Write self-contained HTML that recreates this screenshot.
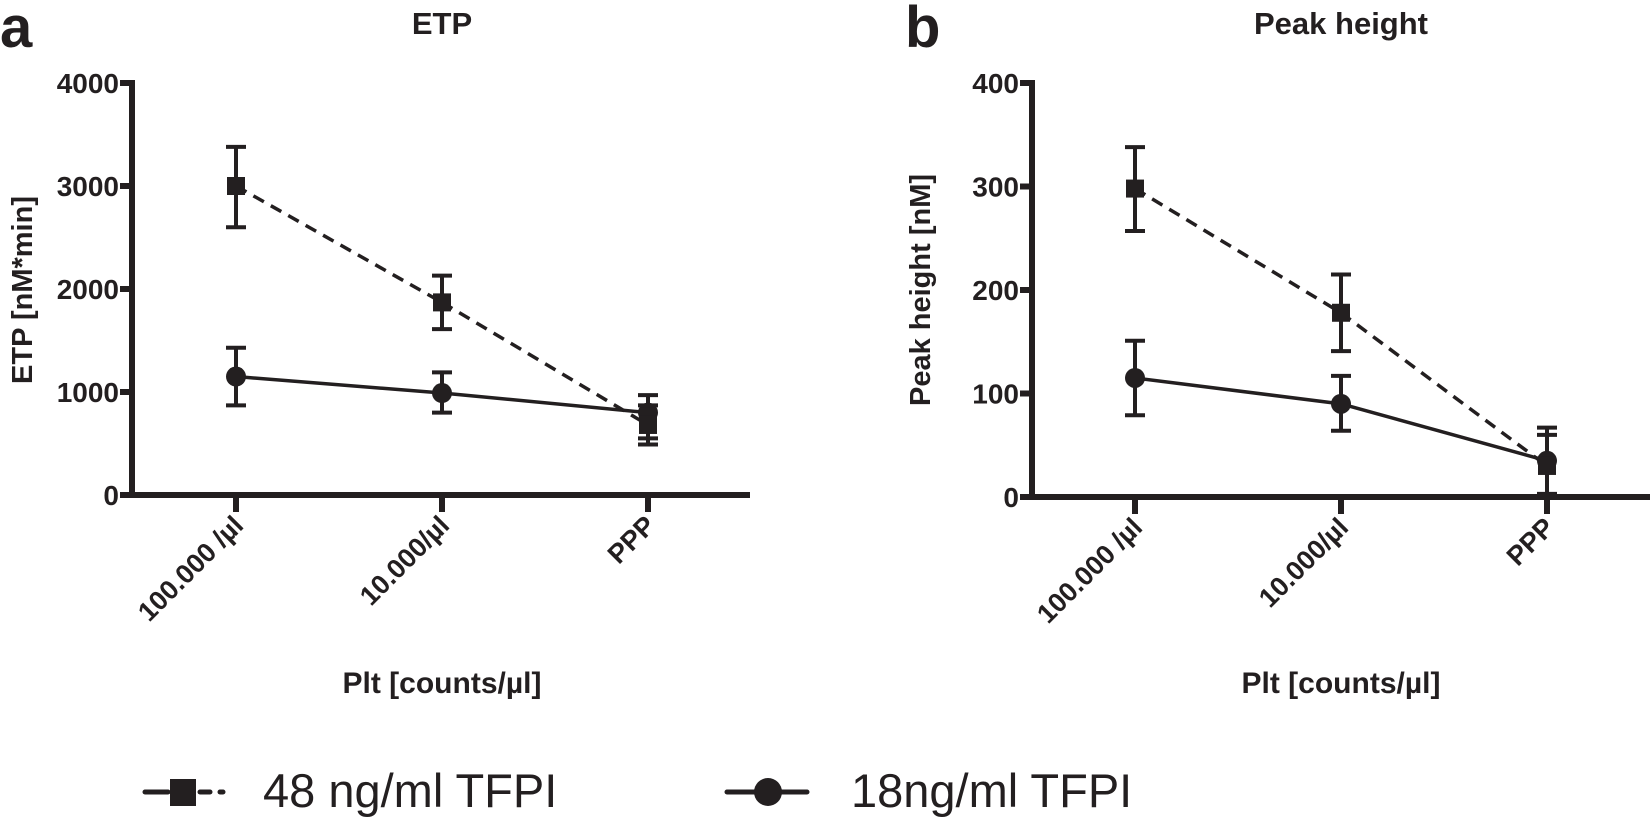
<!DOCTYPE html>
<html><head><meta charset="utf-8"><style>
html,body{margin:0;padding:0;background:#fff}
svg{display:block}
text{font-family:"Liberation Sans",Arial,sans-serif;fill:#231f20}
.b{font-weight:bold}
</style></head><body>
<svg id="s" width="1650" height="818" viewBox="0 0 1650 818" xmlns="http://www.w3.org/2000/svg">
<text x="0" y="47" class="b" font-size="58">a</text>
<text x="905" y="47" class="b" font-size="58">b</text>
<text x="442" y="34" class="b" font-size="31" text-anchor="middle">ETP</text>
<text x="1341" y="34" class="b" font-size="31" text-anchor="middle">Peak height</text>
<text transform="translate(32,290) rotate(-90)" class="b" font-size="29" text-anchor="middle">ETP [nM*min]</text>
<text transform="translate(930,290) rotate(-90)" class="b" font-size="29" text-anchor="middle">Peak height [nM]</text>
<text x="442" y="693" class="b" font-size="30" text-anchor="middle">Plt  [counts/µl]</text>
<text x="1341" y="693" class="b" font-size="30" text-anchor="middle">Plt  [counts/µl]</text>
<g stroke="#231f20" stroke-width="5" stroke-linecap="round">
<line x1="145" y1="792" x2="168" y2="792"/><line x1="200" y1="792" x2="210" y2="792"/><line x1="220" y1="792" x2="223" y2="792"/>
<line x1="727" y1="792" x2="807" y2="792"/>
</g>
<rect x="170" y="779" width="26" height="27" fill="#231f20"/>
<circle cx="768" cy="792" r="14" fill="#231f20"/>
<text x="263" y="807" font-size="47">48 ng/ml TFPI</text>
<text x="851" y="807" font-size="47">18ng/ml TFPI</text>
<g id="g"></g>
</svg>
<script>
var g=document.getElementById('g'),h='';
function L(x1,y1,x2,y2,w,d){h+='<line x1="'+x1+'" y1="'+y1+'" x2="'+x2+'" y2="'+y2+'" stroke="#231f20" stroke-width="'+w+'"'+(d?' stroke-dasharray="'+d+'"':'')+'/>';}
function T(x,y,s,a,tr,fs){h+='<text x="'+x+'" y="'+y+'" class="b" font-size="'+(fs||28)+'" text-anchor="'+a+'"'+(tr?' transform="'+tr+'"':'')+'>'+s+'</text>';}
function panel(ax,x0,xend,top,bot,max,step,sq,ci){
 var sy=function(v){return bot-(v/max)*(bot-top);};
 L(ax,top-3,ax,bot+3,6);L(ax-3,bot,xend,bot,6);
 for(var v=0;v<=max;v+=step){var y=sy(v);L(ax-12,y,ax,y,6);T(ax-13,y+10,v,'end',null,28);}
 var labs=['100.000 /µl','10.000/µl','PPP'];
 for(var i=0;i<3;i++){var x=x0+206*i;L(x,bot,x,bot+17,6);
  T(x+9,bot+32,labs[i],'end','rotate(-45 '+(x+9)+' '+(bot+32)+')',27);}
 function series(d,dash,mk){
  var pts=d.map(function(p,i){return [x0+206*i,sy(p[0])];});
  for(var i=0;i<2;i++)L(pts[i][0],pts[i][1],pts[i+1][0],pts[i+1][1],3.5,dash);
  d.forEach(function(p,i){var x=pts[i][0];L(x,sy(p[1]),x,sy(p[2]),4);L(x-10,sy(p[1]),x+10,sy(p[1]),4);L(x-10,sy(p[2]),x+10,sy(p[2]),4);
   if(mk=='s')h+='<rect x="'+(x-9)+'" y="'+(pts[i][1]-9)+'" width="18" height="18" fill="#231f20"/>';
   else h+='<circle cx="'+x+'" cy="'+pts[i][1]+'" r="10" fill="#231f20"/>';});
 }
 series(ci,null,'c');series(sq,'12,8','s');
}
panel(132,236,750,83,495,4000,1000,[[3000,2600,3380],[1870,1610,2130],[680,490,870]],[[1150,870,1430],[990,800,1190],[800,550,970]]);
panel(1032,1135,1650,83,497,400,100,[[298,257,338],[178,141,215],[30,0,60]],[[115,79,151],[90,64,117],[35,3,67]]);
g.innerHTML=h;
</script>
</body></html>
